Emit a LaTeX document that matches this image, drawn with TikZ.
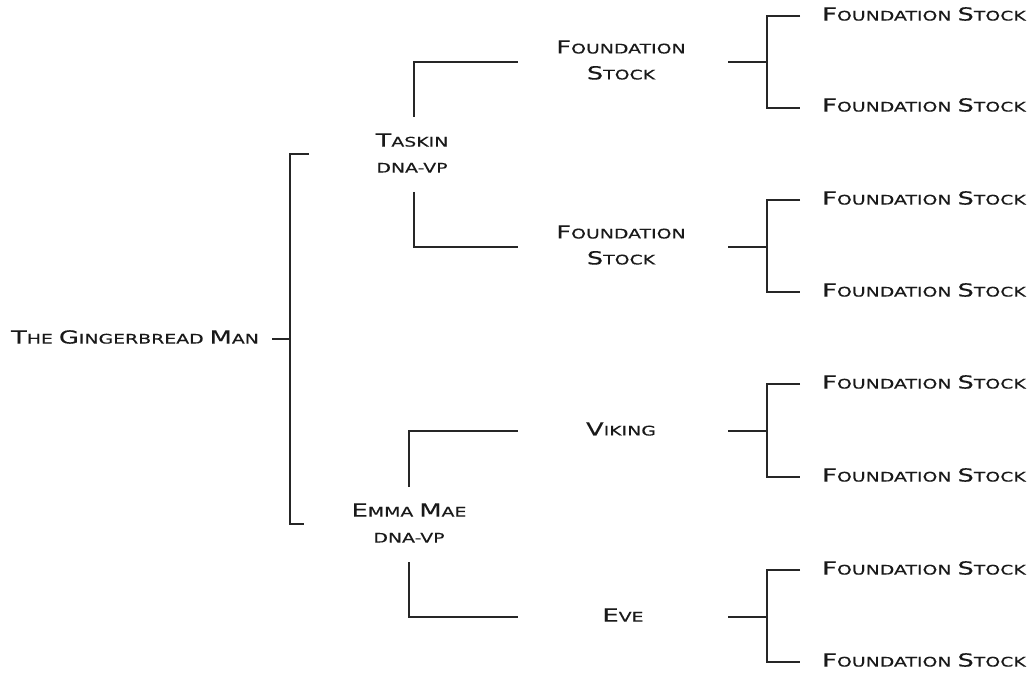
\documentclass[tikz,border=0pt]{standalone}
\usepackage{fontspec}
\newfontfamily\cpfont[FakeStretch=1.43,FakeBold=0.4]{DejaVu Sans}
\newcommand\Bg[1]{{\fontsize{18}{26}\selectfont #1}}
\newcommand\Sm[1]{{\fontsize{13.2}{26}\selectfont #1}}
\tikzset{
  lbl/.style={inner sep=0pt, align=center, text=black!90, font=\cpfont\fontsize{13.2}{26}\selectfont},
  leaf/.style={lbl, anchor=west},
  conn/.style={draw=black!85, line width=1.3pt}
}
\begin{document}
\begin{tikzpicture}[x=1pt,y=-1pt]
\useasboundingbox (0,0) rectangle (1034,674);
% nodes
\node[lbl] (gm) at (135,337) {\Bg{T}\Sm{HE} \Bg{G}\Sm{INGERBREAD} \Bg{M}\Sm{AN}};
\node[lbl] (taskin) at (412,153) {\Bg{T}\Sm{ASKIN}\\\Sm{DNA-VP}};
\node[lbl] (emma) at (409,523) {\Bg{E}\Sm{MMA} \Bg{M}\Sm{AE}\\\Sm{DNA-VP}};
\node[lbl] (fs1) at (621,60) {\Bg{F}\Sm{OUNDATION}\\\Bg{S}\Sm{TOCK}};
\node[lbl] (fs2) at (621,245) {\Bg{F}\Sm{OUNDATION}\\\Bg{S}\Sm{TOCK}};
\node[lbl] (viking) at (621,429) {\Bg{V}\Sm{IKING}};
\node[lbl] (eve) at (623,615) {\Bg{E}\Sm{VE}};
\foreach \n/\y in {l1/14,l2/105,l3/198,l4/290,l5/382,l6/475,l7/568,l8/660}{
  \node[leaf] (\n) at (822,\y) {\Bg{F}\Sm{OUNDATION} \Bg{S}\Sm{TOCK}};
}
% main bracket
\coordinate (m0) at (272,339);
\coordinate (m1) at (290,339);
\coordinate (mt) at (309,154);
\coordinate (mb) at (304,524);
\draw[conn] (m0) -- (m1);
\draw[conn] (mt) -| (mb -| m1) -- (mb);
% Taskin branches
\coordinate (t1) at (414,117);
\coordinate (t2) at (414,192);
\coordinate (f1w) at (518,62);
\coordinate (f2w) at (518,247);
\draw[conn] (t1) |- (f1w);
\draw[conn] (t2) |- (f2w);
% Emma branches
\coordinate (e1) at (409,487);
\coordinate (e2) at (409,562);
\coordinate (vw) at (518,431);
\coordinate (ew) at (518,617);
\draw[conn] (e1) |- (vw);
\draw[conn] (e2) |- (ew);
% right brackets
\foreach \c/\t/\b in {62/16/108, 247/200/292, 431/384/477, 617/570/662}{
  \coordinate (s0) at (728,\c);
  \coordinate (s1) at (767,\c);
  \coordinate (st) at (800,\t);
  \coordinate (sb) at (800,\b);
  \draw[conn] (s0) -- (s1);
  \draw[conn] (st) -| (s1 |- sb) -- (sb);
}
\end{tikzpicture}
\end{document}
